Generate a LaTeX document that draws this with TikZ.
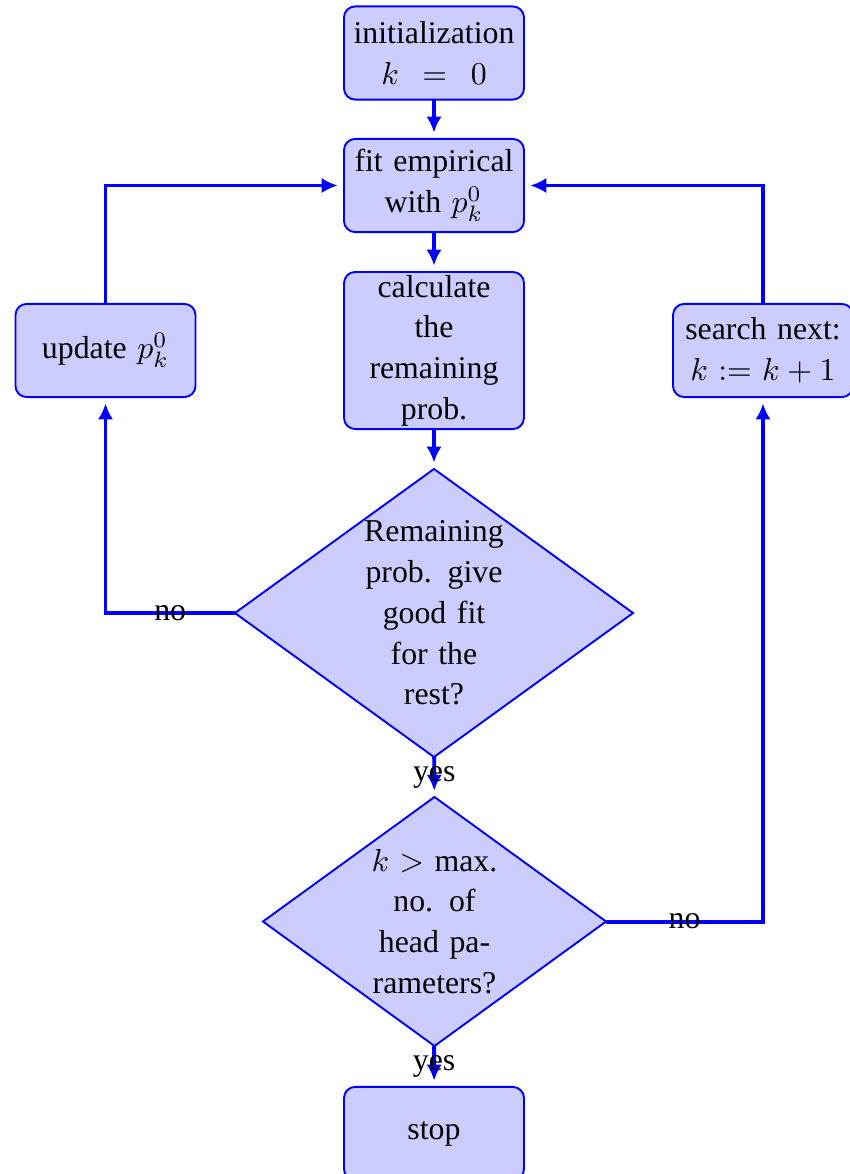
\documentclass[tikz,border=0pt]{standalone}
\usepackage[no-math]{fontspec}
\setmainfont{Liberation Serif}
\usetikzlibrary{shapes.geometric,arrows.meta}
\begin{document}
\begin{tikzpicture}[x=0.31447pt,y=-0.31447pt,
  font=\fontsize{10}{12.8}\selectfont,
  block/.style={rectangle, draw=blue, semithick, fill=blue!20, rounded corners=3.5pt,
    minimum width=56.6pt, minimum height=29.3pt, text width=52pt, align=center,
    inner sep=0pt, outer sep=0pt},
  tall/.style={minimum height=49.4pt},
  decision/.style={diamond, draw=blue, semithick, fill=blue!20, inner sep=0pt, outer sep=0pt},
  dtext/.style={text width=45pt, align=center, inner sep=0pt},
  line/.style={draw=blue, line width=1.25pt, -{Latex[length=5pt,width=4.8pt]}, shorten >=2pt},
  lbl/.style={text=black, inner sep=1pt}]
\useasboundingbox (0,0) rectangle (849,1174);
\node[block] (init) at (434,53) {initialization\\$k\ =\ 0$};
\node[block] (fit) at (434,185.5) {fit empirical\\with $p_k^0$};
\node[block, tall] (calc) at (434,350.5) {calculate\\the\\remaining\\prob.};
\node[block] (update) at (105.5,350.5) {update $p_k^0$};
\node[block] (search) at (763,350.5) {search next:\\$k := k + 1$};
\node[decision, minimum width=125.2pt, minimum height=90.6pt] (d1) at (434,613) {};
\node[dtext] (d1t) at (d1.center) {Remaining\\prob. give\\good fit\\for the\\rest?};
\node[decision, minimum width=107.9pt, minimum height=78.3pt] (d2) at (434.5,921.5) {};
\node[dtext] (d2t) at (d2.center) {$k >$ max.\\no. of\\head pa-\\rameters?};
\node[block] (stop) at (434,1133.5) {stop};
\path[line] (init) -- (fit);
\path[line] (fit) -- (calc);
\path[line] (calc) -- (d1);
\path[line] (d1) -- node[lbl]{yes} (d2);
\path[line] (d1.west) -| node[lbl, near start]{no} (update);
\path[line] (update) |- (fit);
\path[line] (d2.east) -| node[lbl, near start]{no} (search);
\path[line] (search) |- (fit);
\path[line] (d2) -- node[lbl]{yes} (stop);
\end{tikzpicture}
\end{document}
